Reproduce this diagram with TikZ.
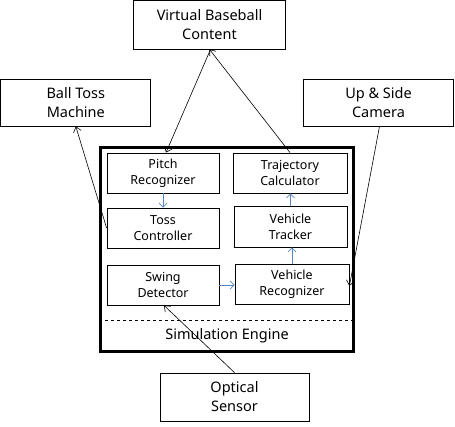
\documentclass[tikz,border=0pt]{standalone}
\usepackage{fontspec}
\setmainfont{Noto Sans}
\usetikzlibrary{arrows.meta}
\definecolor{bluearr}{HTML}{5B87C0}
\begin{document}
\begin{tikzpicture}[x=1pt,y=-1pt,
  outer/.style={draw,line width=0.8pt,inner sep=0pt,align=center,
    font=\fontsize{14.5}{19}\selectfont},
  inner/.style={draw,line width=0.8pt,inner sep=0pt,align=center,
    minimum height=40pt,font=\fontsize{12.5}{16}\selectfont},
  blk/.style={line width=0.6pt,-{Straight Barb[length=5pt,width=8pt,line width=0.6pt]}},
  blu/.style={line width=0.7pt,draw=bluearr,-{Straight Barb[length=4pt,width=8pt,line width=0.7pt]}}]
\useasboundingbox (0,0) rectangle (455,426);
% outer boxes
\node[outer,minimum width=152pt,minimum height=49pt] (vbc) at (209.5,24.5) {Virtual Baseball\\Content};
\node[outer,minimum width=150pt,minimum height=47pt] (btm) at (75.8,102.5) {Ball Toss\\Machine};
\node[outer,minimum width=150pt,minimum height=47pt] (usc) at (378.5,102.5) {Up \& Side\\Camera};
\node[outer,minimum width=149pt,minimum height=48pt] (os) at (234.5,397) {Optical\\Sensor};
% engine
\node[draw,line width=3pt,minimum width=253pt,minimum height=204pt,inner sep=0pt] (eng) at (227,249) {};
\draw[dashed,line width=0.6pt] (eng.west |- 0,320.5) coordinate (dl) -- (eng.east |- 0,320.5) coordinate (dr);
\node[font=\fontsize{14.5}{16}\selectfont] (sim) at (227,336) {Simulation Engine};
% inner boxes
\node[inner,minimum width=112pt] (pr) at (163,173) {Pitch\\Recognizer};
\node[inner,minimum width=112pt] (tc) at (163,228) {Toss\\Controller};
\node[inner,minimum width=112pt] (sd) at (163,285) {Swing\\Detector};
\node[inner,minimum width=114pt] (trc) at (290,173) {Trajectory\\Calculator};
\node[inner,minimum width=113pt,minimum height=41pt] (vt) at (290.5,226.5) {Vehicle\\Tracker};
\node[inner,minimum width=114pt] (vr) at (292,284) {Vehicle\\Recognizer};
% black arrows
\draw[blk] ([xshift=1pt]vbc.south) -- ([xshift=3pt]pr.north);
\draw[blk] (trc.north) -- (vbc.south);
\draw[blk] (tc.west) -- (btm.south);
\draw[blk] ([xshift=1pt]usc.south) -- ([yshift=-2pt]vr.east);
\draw[blk] (os.north) -- ([xshift=1pt]sd.south);
% blue arrows
\draw[blu] (pr.south) -- (tc.north);
\draw[blu] (sd.east) -- (sd.east -| vr.west);
\draw[blu] (vr.north) -- (vr.north |- vt.south);
\draw[blu] (vt.north) -- (vt.north |- trc.south);
\end{tikzpicture}
\end{document}
